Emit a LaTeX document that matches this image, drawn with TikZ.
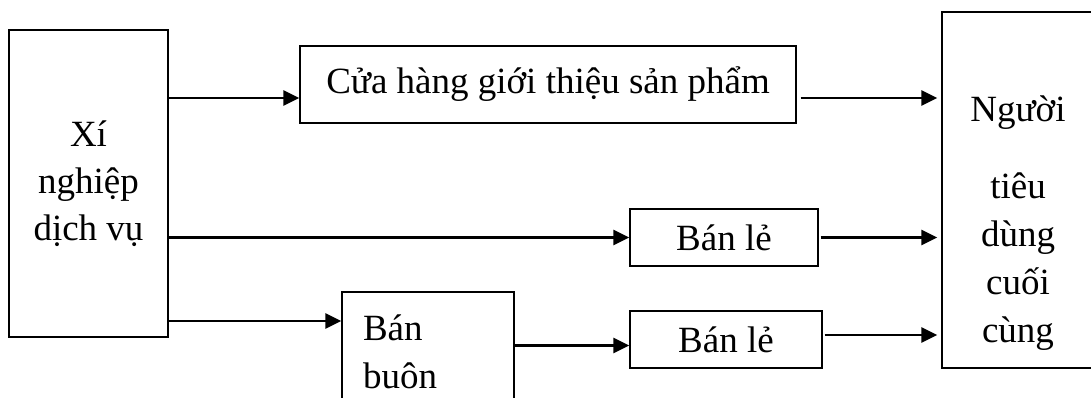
\documentclass[tikz,border=0pt]{standalone}
\usepackage{fontspec}
\setmainfont{Liberation Serif}
\usetikzlibrary{arrows.meta}
\newcommand\diagfont{\fontsize{37pt}{47pt}\selectfont}
\begin{document}
\begin{tikzpicture}[
        x=1pt, y=-1pt,
        block/.style={draw=black, line width=1.4pt, inner sep=0pt, font=\diagfont},
        words/.style={inner sep=0pt, font=\diagfont},
        edge/.style={-{Triangle[length=16pt, width=15pt]}, line width=2.8pt}
      ]
        \useasboundingbox (0, 0) rectangle (1091, 398);

        \node (xn) at (88.5, 183.5) [block, minimum width=159pt, minimum height=307pt, align=center] { Xí\\nghiệp\\dịch vụ };
        \node (ch) at (548, 84.5) [block, minimum width=496pt, minimum height=77pt] { Cửa hàng giới thiệu sản phẩm };
        \node (bl1) at (724, 237.5) [block, minimum width=188pt, minimum height=57pt] { Bán lẻ };
        \node (bb) at (428, 352) [block, minimum height=120pt, inner xsep=21pt, text width=130pt, align=left] { Bán\\[1pt]buôn };
        \node (bl2) at (726, 339.5) [block, minimum width=192pt, minimum height=57pt] { Bán lẻ };
        \node (ntd) at (1020, 190) [block, minimum width=156pt, minimum height=356pt] {};
        \node (ntdt) at (1018, 342) [words, anchor=base, align=center] { Người\\[30pt]tiêu\\[1pt]dùng\\[1pt]cuối\\[1pt]cùng };

        \coordinate (a1) at ([yshift=-13.5pt]ch.west);
        \coordinate (a3) at ([yshift=31pt]bb.west);
        \coordinate (a4) at ([yshift=-6pt]bl2.west);
        \coordinate (a5) at ([yshift=4.5pt]bl2.east);

        \draw [edge] (xn.east |- a1) -- (a1);
        \draw [edge, shorten >=4pt] ([xshift=4pt]ch.east |- a1) -- (ntd.west |- a1);
        \draw [edge] (xn.east |- bl1.west) -- (bl1.west);
        \draw [edge, shorten >=4pt] ([xshift=2pt]bl1.east) -- (ntd.west |- bl1.east);
        \draw [edge] (xn.east |- a3) -- (a3);
        \draw [edge] (bb.east |- a4) -- (a4);
        \draw [edge, shorten >=4pt] ([xshift=2pt]a5) -- (ntd.west |- a5);
      \end{tikzpicture}
\end{document}
